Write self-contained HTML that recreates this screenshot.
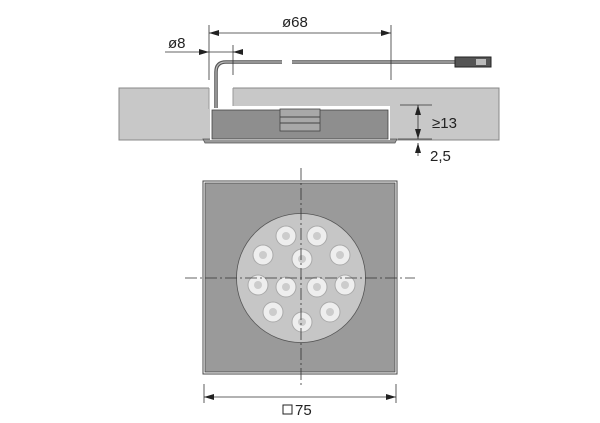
<!DOCTYPE html>
<html><head><style>
body{margin:0;background:#fff}
svg{display:block}
text{font-family:"Liberation Sans",sans-serif;fill:#222}
</style></head><body>
<svg width="600" height="423" viewBox="0 0 600 423" xmlns="http://www.w3.org/2000/svg">
<defs>
<marker id="a" markerWidth="10" markerHeight="6" refX="10" refY="3" orient="auto" markerUnits="userSpaceOnUse"><path d="M0,0L10,3L0,6z" fill="#222"/></marker>
</defs>
<rect x="119" y="88" width="380" height="52" fill="#c8c8c8" stroke="#888" stroke-width="1"/>
<rect x="209" y="87" width="24" height="22" fill="#fff"/>
<line x1="209" y1="88" x2="209" y2="109" stroke="#999"/>
<line x1="233" y1="88" x2="233" y2="109" stroke="#999"/>
<path d="M203,139 L397,139 L395,143 L205,143 Z" fill="#999" stroke="#555" stroke-width="0.8"/>
<rect x="210" y="106" width="180" height="34" fill="#fff"/>
<rect x="212" y="110" width="176" height="29" fill="#8e8e8e" stroke="#444" stroke-width="0.8"/>
<rect x="280" y="109" width="40" height="22" fill="#a8a8a8" stroke="#444" stroke-width="0.8"/>
<line x1="280" y1="117" x2="320" y2="117" stroke="#444"/>
<line x1="280" y1="123" x2="320" y2="123" stroke="#444"/>
<path d="M216,108 L216,72 Q216,62 226,62 L282,62 M292,62 L455,62" fill="none" stroke="#555" stroke-width="3.5"/>
<path d="M216,108 L216,72 Q216,62 226,62 L282,62 M292,62 L455,62" fill="none" stroke="#bbb" stroke-width="1.2"/>
<rect x="455" y="57" width="36" height="10" fill="#555" stroke="#222"/>
<rect x="476" y="59" width="10" height="6" fill="#bbb"/>
<g stroke="#333" stroke-width="0.8" fill="none">
<line x1="209" y1="25" x2="209" y2="80"/>
<line x1="391" y1="25" x2="391" y2="80"/>
<line x1="233" y1="45" x2="233" y2="75"/>
<line x1="300" y1="33" x2="391" y2="33" marker-end="url(#a)"/>
<line x1="300" y1="33" x2="209" y2="33" marker-end="url(#a)"/>
<line x1="165" y1="52" x2="209" y2="52" marker-end="url(#a)"/>
<line x1="209" y1="52" x2="243" y2="52"/>
<line x1="243" y1="52" x2="233" y2="52" marker-end="url(#a)"/>
<line x1="400" y1="105" x2="432" y2="105"/>
<line x1="398" y1="139" x2="432" y2="139"/>
<line x1="418" y1="122" x2="418" y2="105" marker-end="url(#a)"/>
<line x1="418" y1="122" x2="418" y2="139" marker-end="url(#a)"/>
<line x1="418" y1="156" x2="418" y2="143" marker-end="url(#a)"/>
</g>
<text x="282" y="27" font-size="15">ø68</text>
<text x="168" y="48" font-size="15">ø8</text>
<text x="432" y="128" font-size="15">≥13</text>
<text x="430" y="161" font-size="15">2,5</text>
<rect x="203" y="181" width="194" height="193" fill="#fff" stroke="#444" stroke-width="1"/>
<rect x="205" y="183" width="190" height="189" fill="#9a9a9a" stroke="#444" stroke-width="0.8"/>
<circle cx="301" cy="278" r="64.5" fill="#c6c6c6" stroke="#555" stroke-width="0.8"/>
<g fill="#eee" stroke="#aaa" stroke-width="1">
<circle cx="286" cy="236" r="10"/><circle cx="317" cy="236" r="10"/>
<circle cx="263" cy="255" r="10"/><circle cx="302" cy="259" r="10"/><circle cx="340" cy="255" r="10"/>
<circle cx="258" cy="285" r="10"/><circle cx="286" cy="287" r="10"/><circle cx="317" cy="287" r="10"/><circle cx="345" cy="285" r="10"/>
<circle cx="273" cy="312" r="10"/><circle cx="330" cy="312" r="10"/><circle cx="302" cy="322" r="10"/>
</g>
<g fill="#ccc">
<circle cx="286" cy="236" r="4"/><circle cx="317" cy="236" r="4"/>
<circle cx="263" cy="255" r="4"/><circle cx="302" cy="259" r="4"/><circle cx="340" cy="255" r="4"/>
<circle cx="258" cy="285" r="4"/><circle cx="286" cy="287" r="4"/><circle cx="317" cy="287" r="4"/><circle cx="345" cy="285" r="4"/>
<circle cx="273" cy="312" r="4"/><circle cx="330" cy="312" r="4"/><circle cx="302" cy="322" r="4"/>
</g>
<g stroke="#333" stroke-width="0.8" stroke-dasharray="12,3,2,3">
<line x1="185" y1="278" x2="415" y2="278"/>
<line x1="301" y1="168" x2="301" y2="385"/>
</g>
<g stroke="#333" stroke-width="0.8">
<line x1="204" y1="384" x2="204" y2="403"/>
<line x1="396" y1="384" x2="396" y2="403"/>
<line x1="300" y1="397" x2="204" y2="397" marker-end="url(#a)"/>
<line x1="300" y1="397" x2="396" y2="397" marker-end="url(#a)"/>
</g>
<rect x="283" y="405" width="9" height="9" fill="none" stroke="#222" stroke-width="1"/>
<text x="295" y="415" font-size="15">75</text>
</svg>
</body></html>
